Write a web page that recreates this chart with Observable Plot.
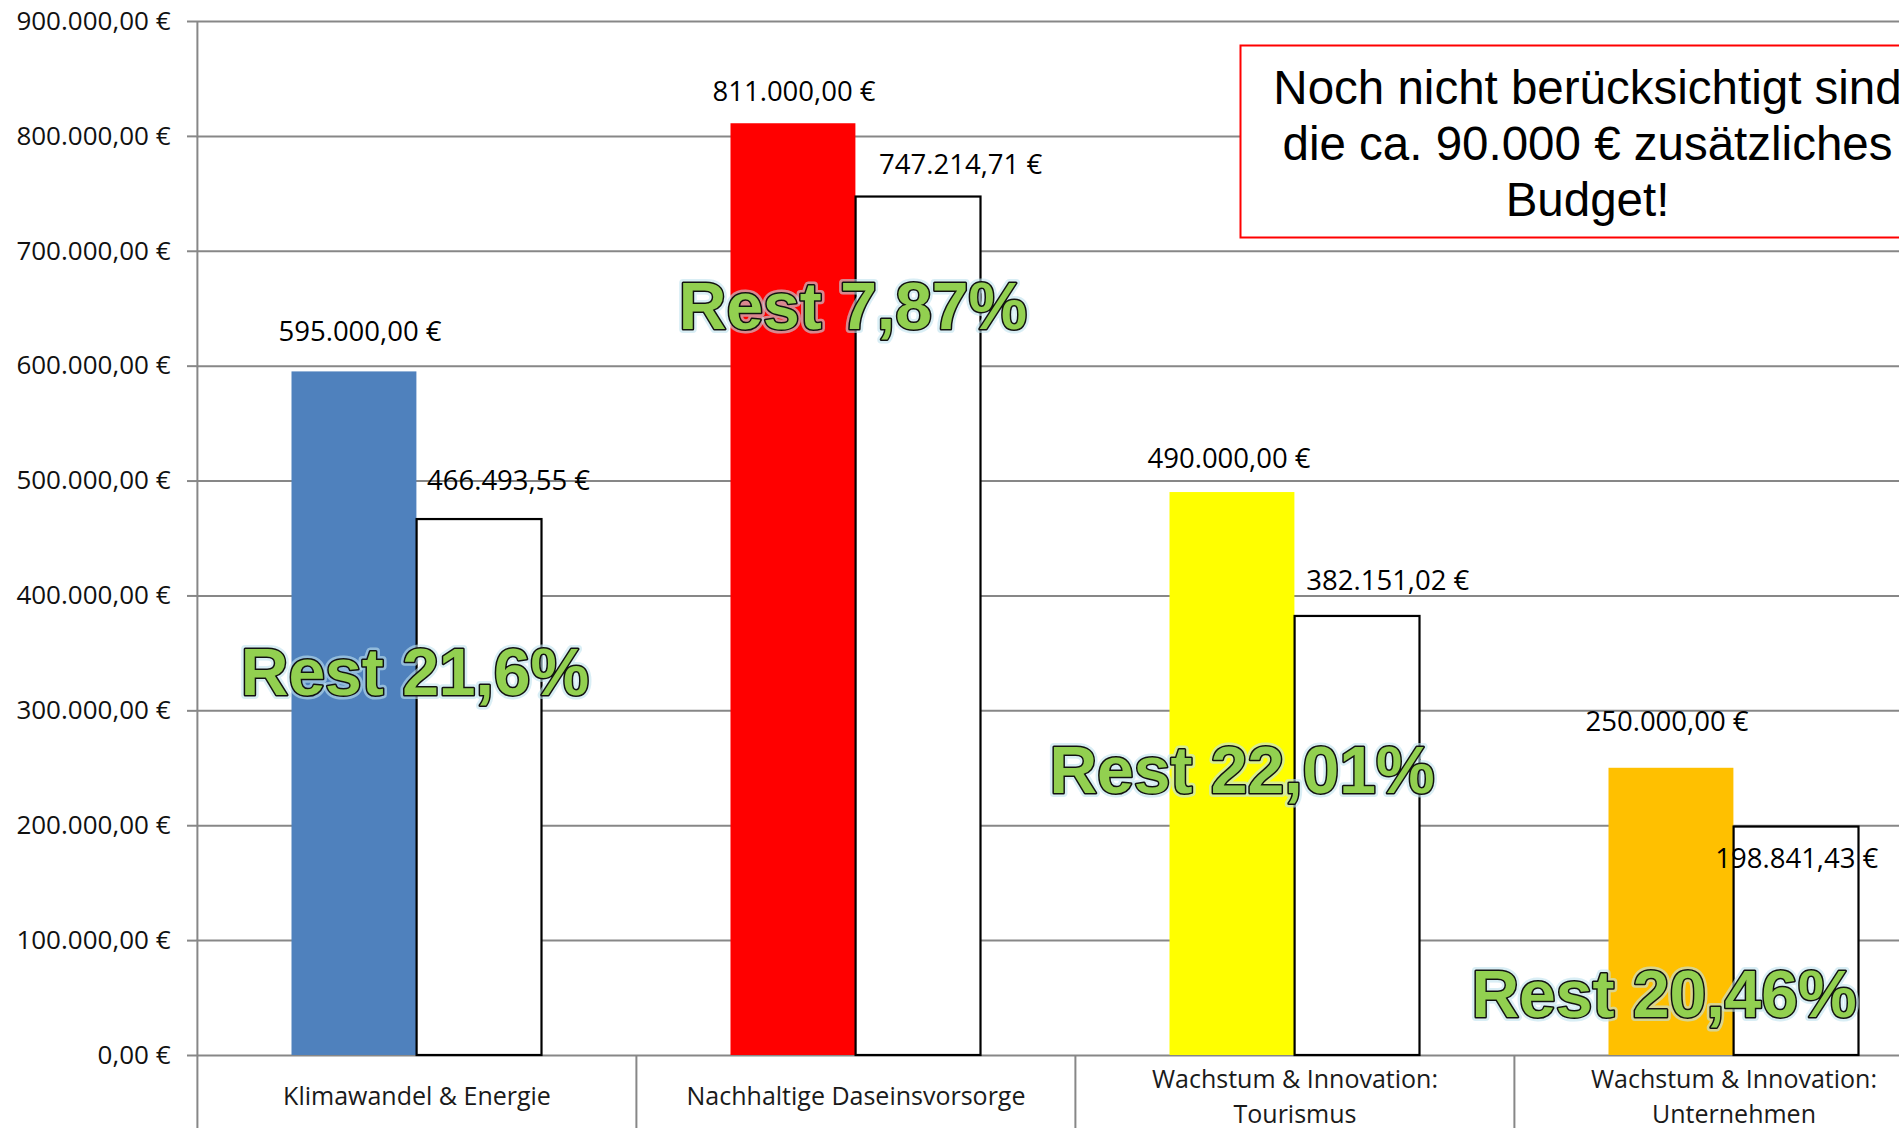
<!DOCTYPE html>
<html>
<head>
<meta charset="utf-8">
<script src="https://cdn.jsdelivr.net/npm/d3@7"></script>
<script src="https://cdn.jsdelivr.net/npm/@observablehq/plot@0.6"></script>
<style>
  html, body { margin: 0; padding: 0; background: #fff; overflow: hidden; }
  #chart svg { display: block; max-width: none !important; }
</style>
</head>
<body>
<div id="chart"></div>
<script>
// ---------- DATA ----------
const categories = [
  "Klimawandel & Energie",
  "Nachhaltige Daseinsvorsorge",
  "Wachstum & Innovation:\nTourismus",
  "Wachstum & Innovation:\nUnternehmen"
];
const budget = [595000, 811000, 490000, 250000];
const bewilligt = [466493.55, 747214.71, 382151.02, 198841.43];
const budgetColors = ["#4F81BD", "#FF0000", "#FFFF00", "#FFC000"];
const restLabels = ["Rest 21,6%", "Rest 7,87%", "Rest 22,01%", "Rest 20,46%"];
const yTicks = [0, 100000, 200000, 300000, 400000, 500000, 600000, 700000, 800000, 900000];
const yTickLabels = ["0,00 €", "100.000,00 €", "200.000,00 €", "300.000,00 €", "400.000,00 €",
                     "500.000,00 €", "600.000,00 €", "700.000,00 €", "800.000,00 €", "900.000,00 €"];
const noteText = "Noch nicht berücksichtigt sind\ndie ca. 90.000 € zusätzliches\nBudget!";

// ---------- LAYOUT (annotation placement, not data) ----------
const W = 1899, H = 1128;
const ML = 196, MT = 21, MB = 73;
const BAND = 439.2;
const X0 = 196.2, X1 = X0 + 4 * BAND;
const BAR_OUT = 94.5, BAR_W = 125.1;
const budgetLabelDx = [-57, -62, -66, -67];
const budgetLabelDy = [-40, -32, -33, -46];
const istLabelDx = [91.5, 104.6, 92.8, 62.8];
const istLabelDy = [-38, -31.5, -35.7, 32];
const restAnchorY = [332500, 650500, 247000, 52000];
const restDx = [-2, -3, -53, -70];

const GRID = "#878787";
const SANS = "'Open Sans', 'Noto Sans', sans-serif";
const ARIAL = "'Liberation Sans', Arial, sans-serif";

const fmt = v => v.toLocaleString("de-DE", {minimumFractionDigits: 2, maximumFractionDigits: 2}) + " €";

const rows = categories.map((c, i) => ({cat: c, budget: budget[i], ist: bewilligt[i], color: budgetColors[i]}));
const restRows = categories.map((c, i) => ({cat: c, text: restLabels[i], y: restAnchorY[i]}));

const marks = [
  Plot.gridY(yTicks, {stroke: GRID, strokeOpacity: 1, strokeWidth: 2}),
  Plot.axisY(yTicks, {
    tickSize: 9, tickPadding: 17, stroke: GRID, strokeWidth: 2, fill: "#111",
    tickFormat: d => yTickLabels[yTicks.indexOf(d)],
    fontSize: 26, fontFamily: SANS, label: null
  }),
  Plot.axisX(categories, {
    tickSize: 73, tickPadding: 0, tickFormat: () => "", dx: -BAND / 2,
    stroke: GRID, strokeWidth: 2, label: null
  }),
  Plot.ruleX([categories[0]], {x: d => d, dx: -BAND / 2, stroke: GRID, strokeWidth: 2}),
  Plot.barY(rows, {
    x: "cat", y: "budget", fill: "color",
    insetLeft: BAR_OUT, insetRight: BAND - BAR_OUT - BAR_W
  }),
  Plot.barY(rows, {
    x: "cat", y: "ist", fill: "white", stroke: "#000", strokeWidth: 2.2,
    insetLeft: BAR_OUT + BAR_W, insetRight: BAND - BAR_OUT - 2 * BAR_W
  }),
  Plot.text(rows, {
    x: "cat", text: "cat", frameAnchor: "bottom", dy: 38.5, lineAnchor: "middle",
    fontSize: 25, lineHeight: 1.42, fontFamily: SANS, fill: "#1a1a1a"
  })
];

rows.forEach((r, i) => {
  marks.push(Plot.text([r], {
    x: "cat", y: "budget", text: d => fmt(d.budget),
    dx: budgetLabelDx[i], dy: budgetLabelDy[i], lineAnchor: "middle",
    fontSize: 27.5, fontFamily: SANS, fill: "#000"
  }));
  marks.push(Plot.text([r], {
    x: "cat", y: "ist", text: d => fmt(d.ist),
    dx: istLabelDx[i], dy: istLabelDy[i], lineAnchor: "middle",
    fontSize: 27.5, fontFamily: SANS, fill: "#000"
  }));
});

// note box
marks.push(Plot.frame({
  fill: "white", stroke: "#FF0000", strokeWidth: 2,
  insetLeft: 1240 - ML, insetTop: 45 - MT, insetBottom: 1055 - 237, insetRight: -60
}));
marks.push(Plot.text([noteText], {
  text: d => d, frameAnchor: "top-left", dx: 1587 - ML, dy: 142 - MT,
  textAnchor: "middle", lineAnchor: "middle", lineHeight: 1.18,
  fontSize: 47.5, fontFamily: ARIAL, fill: "#000"
}));

// green "Rest" annotations (soft glow + outlined text)
restRows.forEach((r, i) => {
  marks.push(Plot.text([r], {
    x: "cat", y: "y", text: "text", dx: restDx[i], lineAnchor: "middle",
    fontSize: 66, fontWeight: "bold", fontFamily: ARIAL,
    fill: "#92D050", stroke: "#BFE3EE", strokeWidth: 8, strokeOpacity: 0.6, strokeLinejoin: "round"
  }));
  marks.push(Plot.text([r], {
    x: "cat", y: "y", text: "text", dx: restDx[i], lineAnchor: "middle",
    fontSize: 66, fontWeight: "bold", fontFamily: ARIAL,
    fill: "#92D050", stroke: "#111", strokeWidth: 3, paintOrder: "stroke"
  }));
});

const chart = Plot.plot({
  width: W, height: H,
  marginLeft: ML, marginTop: MT, marginBottom: MB, marginRight: 0,
  style: {fontFamily: SANS, background: "white", overflow: "hidden"},
  x: {type: "band", domain: categories, range: [X0, X1], paddingInner: 0, paddingOuter: 0, label: null},
  y: {domain: [0, 900000], label: null},
  color: {type: "identity"},
  marks
});
document.getElementById("chart").appendChild(chart);
</script>
</body>
</html>
